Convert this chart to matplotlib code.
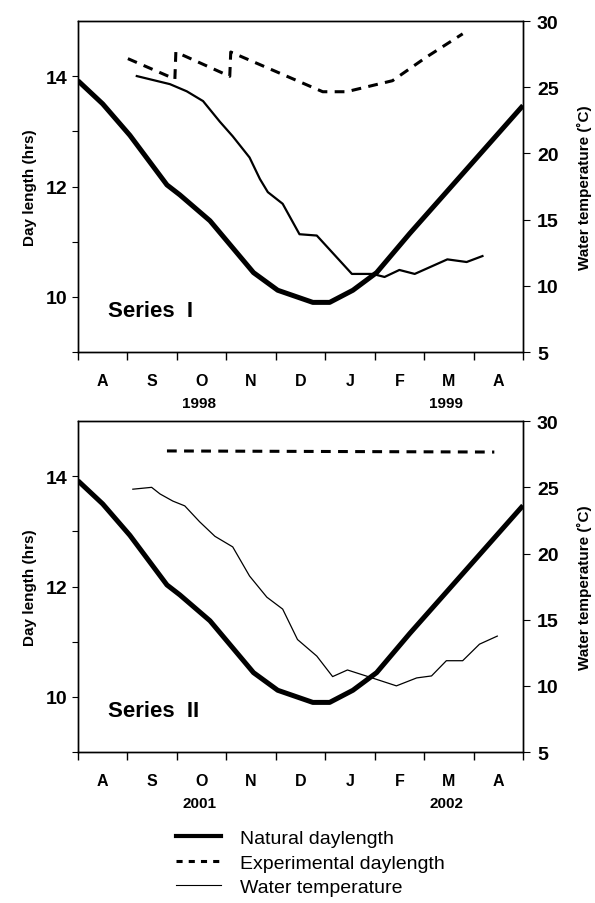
import numpy as np
import matplotlib
matplotlib.use("Agg")
import matplotlib.pyplot as plt
from matplotlib.lines import Line2D

plt.rcParams['font.family'] = ['Liberation Sans', 'DejaVu Sans']

# x in months after 1 August
months = ['A', 'S', 'O', 'N', 'D', 'J', 'F', 'M', 'A']

# natural daylength (hrs), same in both series
nat_x = [0, 0.5, 1.05, 1.8, 2.06, 2.67, 3.55, 4.04, 4.75, 5.09, 5.56, 6.04, 6.71, 7.5, 9.0]
nat_y = [13.92, 13.5, 12.93, 12.03, 11.85, 11.38, 10.44, 10.12, 9.9, 9.9, 10.12, 10.44, 11.15, 11.95, 13.47]

# Series I
exp1_x = [1.01, 1.96, 1.98, 3.07, 3.09, 4.95, 5.43, 6.36, 7.05, 7.78]
exp1_y = [14.32, 13.95, 14.44, 14.0, 14.44, 13.72, 13.72, 13.92, 14.35, 14.77]
wt1_x = [1.19, 1.86, 2.2, 2.53, 2.87, 3.13, 3.47, 3.68, 3.84, 4.14, 4.48, 4.83,
         5.54, 5.96, 6.2, 6.5, 6.81, 7.47, 7.86, 8.18]
wt1_y = [25.85, 25.24, 24.7, 23.96, 22.4, 21.3, 19.7, 18.07, 17.08, 16.2, 13.9, 13.8,
         10.9, 10.9, 10.67, 11.2, 10.9, 12.0, 11.8, 12.25]

# Series II
exp2_x = [1.8, 8.42]
exp2_y = [14.46, 14.44]
wt2_x = [1.11, 1.49, 1.66, 1.92, 2.16, 2.46, 2.77, 3.13, 3.47, 3.82, 4.14, 4.44, 4.83,
         5.15, 5.45, 5.9, 6.44, 6.85, 7.15, 7.45, 7.78, 8.12, 8.48]
wt2_y = [24.86, 25.0, 24.5, 23.96, 23.6, 22.4, 21.3, 20.5, 18.3, 16.7, 15.8, 13.5, 12.25,
         10.7, 11.2, 10.66, 10.0, 10.6, 10.75, 11.9, 11.9, 13.15, 13.76]

panels = [
    dict(exp_x=exp1_x, exp_y=exp1_y, wt_x=wt1_x, wt_y=wt1_y, wt_lw=1.6,
         name='Series  I', years=('1998', '1999'), bottom=0.6095),
    dict(exp_x=exp2_x, exp_y=exp2_y, wt_x=wt2_x, wt_y=wt2_y, wt_lw=0.9,
         name='Series  II', years=('2001', '2002'), bottom=0.167),
]

fig = plt.figure(figsize=(5.95, 9.04), dpi=100)

for p in panels:
    ax = fig.add_axes([0.131, p['bottom'], 0.748, 0.366])
    ax2 = ax.twinx()

    ax.plot(nat_x, nat_y, color='black', lw=3.6, solid_capstyle='butt')
    ax.plot(p['exp_x'], p['exp_y'], color='black', lw=2.2, dashes=(3.2, 2.4))
    ax2.plot(p['wt_x'], p['wt_y'], color='black', lw=p['wt_lw'])

    ax.set_xlim(0, 9)
    ax.set_ylim(9, 15)
    ax2.set_ylim(5, 30)

    ax.set_yticks([10, 12, 14])
    ax.set_yticks([9, 11, 13], minor=True)
    ax2.set_yticks([5, 10, 15, 20, 25, 30])

    ax.set_xticks(range(10))
    ax.set_xticklabels([])
    ax.set_xticks(np.arange(0.5, 9, 1), minor=True)
    ax.set_xticklabels(months, minor=True, fontsize=11.5, fontweight='bold')
    ax.tick_params(axis='x', which='major', direction='out', length=6, width=1)
    ax.tick_params(axis='x', which='minor', length=0, pad=15)

    ax.tick_params(axis='y', which='both', direction='out', length=4, width=0.8,
                   labelsize=14)
    for lab in ax.get_yticklabels():
        lab.set_fontweight('bold')
    ax2.tick_params(axis='y', direction='out', length=5, width=0.8, labelsize=14,
                    pad=5)
    for lab in ax2.get_yticklabels():
        lab.set_fontweight('bold')

    for sp in list(ax.spines.values()) + list(ax2.spines.values()):
        sp.set_linewidth(1.0)

    ax.set_ylabel('Day length (hrs)', fontsize=11, fontweight='bold', labelpad=6)
    ax2.set_ylabel('Water temperature (\u02daC)', fontsize=11, fontweight='bold',
                   labelpad=13)

    ax.text(0.6, 9.75, p['name'], fontsize=16, fontweight='bold', ha='left',
            va='center')
    ax.text(2.45, -0.155, p['years'][0], transform=ax.get_xaxis_transform(),
            fontsize=11, fontweight='bold', ha='center', va='center')
    ax.text(7.45, -0.155, p['years'][1], transform=ax.get_xaxis_transform(),
            fontsize=11, fontweight='bold', ha='center', va='center')

handles = [
    Line2D([], [], color='black', lw=3.0),
    Line2D([], [], color='black', lw=2.2, dashes=(2.0, 2.0)),
    Line2D([], [], color='black', lw=0.8),
]
fig.legend(handles, ['Natural daylength', 'Experimental daylength', 'Water temperature'],
           loc='upper left', bbox_to_anchor=(0.28, 0.092), frameon=False,
           fontsize=14, handlelength=2.3, handletextpad=1.0, labelspacing=0.35,
           borderpad=0)

fig.savefig('out.png', dpi=100)
